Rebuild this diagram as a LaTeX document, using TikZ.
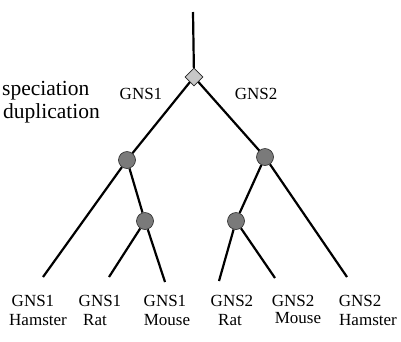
\documentclass[tikz,border=0pt]{standalone}
\usepackage{fontspec}
\setmainfont{Liberation Serif}
\usetikzlibrary{shapes.geometric}
\tikzset{
    spec/.style={circle, draw=black!85, semithick, fill=black!52, minimum size=17pt, inner sep=0pt}, % gene node
    dup/.style={diamond, draw=black!85, semithick, fill=black!22, minimum size=18pt, inner sep=0pt}, % root
    branch/.style={line width=2.2pt},
    lbl/.style={font=\fontsize{17}{20}\selectfont, inner sep=0pt},
    legend/.style={font=\fontsize{21.5}{25}\selectfont, inner sep=0pt, anchor=base west},
}
\begin{document}
\begin{tikzpicture}[x=1pt, y=-1pt]
    \useasboundingbox (0,0) rectangle (401,341);

    % Nodi
    \coordinate (top) at (193,12);
    \node[dup] (root) at (194,77) {};
    \node[spec] (g1) at (127,160) {};
    \node[spec] (g2) at (265,157) {};
    \node[spec] (g1rm) at (145,221) {};
    \node[spec] (g2rm) at (236,221) {};

    % Foglie
    \coordinate (ham1) at (43,277);
    \coordinate (rat1) at (109,277);
    \coordinate (mou1) at (165,282);
    \coordinate (rat2) at (219,281);
    \coordinate (mou2) at (275,278);
    \coordinate (ham2) at (347,277);

    % Rami
    \draw[branch] (top) -- (root);
    \draw[branch] (root) -- (g1);
    \draw[branch] (root) -- (g2);
    \draw[branch] (g1) -- (ham1);
    \draw[branch] (g1) -- (g1rm);
    \draw[branch] (g1rm) -- (rat1);
    \draw[branch] (g1rm) -- (mou1);
    \draw[branch] (g2) -- (g2rm);
    \draw[branch] (g2) -- (ham2);
    \draw[branch] (g2rm) -- (rat2);
    \draw[branch] (g2rm) -- (mou2);

    % Etichette
    \node[lbl] (lg1) at (141,94) {GNS1};
    \node[lbl] (lg2) at (256,94) {GNS2};
    \node[legend] (lspec) at (2,95) {speciation};
    \node[legend] (ldup) at (3,118) {duplication};

    \node[lbl] (t1) at (33,301) {GNS1};
    \node[lbl] (t2) at (100,301) {GNS1};
    \node[lbl] (t3) at (165,301) {GNS1};
    \node[lbl] (t4) at (232,301) {GNS2};
    \node[lbl] (t5) at (293,301) {GNS2};
    \node[lbl] (t6) at (360,301) {GNS2};

    \node[lbl] (n1) at (38,320) {Hamster};
    \node[lbl] (n2) at (95,320) {Rat};
    \node[lbl] (n3) at (167,320) {Mouse};
    \node[lbl] (n4) at (230,320) {Rat};
    \node[lbl] (n5) at (298,318) {Mouse};
    \node[lbl] (n6) at (368,320) {Hamster};
\end{tikzpicture}
\end{document}
